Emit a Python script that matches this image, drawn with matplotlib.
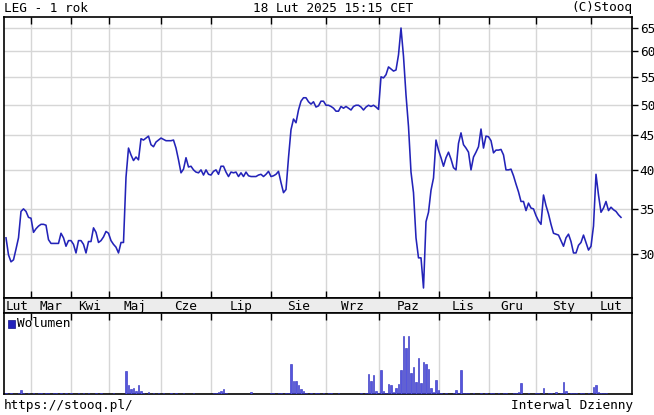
import matplotlib
matplotlib.use('Agg')
import matplotlib.pyplot as plt
import numpy as np
from matplotlib.ticker import FixedLocator, NullLocator, FixedFormatter
from matplotlib.patches import Rectangle

plt.rcParams['font.family'] = ['DejaVu Sans Mono']

# ---- data (one value per trading session) ----
price = [
    31.7, 29.9, 29.2, 29.4, 30.5, 31.7, 34.7, 35.0, 34.7, 34.0,
    33.9, 32.3, 32.7, 33.0, 33.2, 33.2, 33.1, 31.5, 31.1, 31.1,
    31.1, 31.1, 32.2, 31.7, 30.8, 31.4, 31.4, 31.0, 30.1, 31.4,
    31.4, 31.0, 30.1, 31.3, 31.3, 32.8, 32.3, 31.2, 31.4, 31.8,
    32.4, 32.2, 31.4, 31.0, 30.7, 30.1, 31.2, 31.2, 39.0, 43.1,
    42.1, 41.3, 41.8, 41.4, 44.5, 44.3, 44.6, 44.9, 43.6, 43.3,
    44.0, 44.3, 44.6, 44.4, 44.2, 44.2, 44.2, 44.3, 43.1, 41.4,
    39.6, 40.1, 41.7, 40.4, 40.5, 40.0, 39.7, 39.6, 40.0, 39.3,
    40.0, 39.4, 39.3, 39.8, 40.0, 39.4, 40.5, 40.5, 39.7, 39.1,
    39.7, 39.6, 39.7, 39.1, 39.6, 39.1, 39.7, 39.2, 39.1, 39.1,
    39.1, 39.3, 39.4, 39.1, 39.4, 39.8, 39.1, 39.2, 39.4, 39.8,
    38.3, 37.0, 37.4, 41.7, 45.9, 47.6, 47.0, 49.1, 50.6, 51.2,
    51.2, 50.5, 50.1, 50.5, 49.6, 49.8, 50.6, 50.6, 49.9, 49.9,
    49.7, 49.4, 48.9, 48.9, 49.7, 49.4, 49.7, 49.4, 49.1, 49.7,
    49.9, 49.9, 49.6, 49.1, 49.6, 49.9, 49.7, 49.9, 49.6, 49.2,
    55.0, 54.8, 55.4, 56.9, 56.5, 56.1, 56.3, 59.3, 65.0, 59.0,
    51.7, 46.4, 39.7, 37.0, 31.7, 29.6, 29.6, 26.7, 33.5, 34.6,
    37.3, 38.9, 44.3, 42.8, 41.7, 40.5, 41.7, 42.5, 41.5, 40.3,
    40.0, 43.8, 45.4, 43.6, 43.1, 42.5, 40.0, 41.8, 42.5, 43.3,
    46.0, 43.1, 44.9, 44.8, 44.2, 42.4, 42.8, 42.8, 42.9, 42.1,
    40.0, 40.0, 40.1, 39.2, 38.1, 37.1, 35.9, 35.9, 34.8, 35.7,
    35.1, 35.0, 34.2, 33.6, 33.2, 36.7, 35.4, 34.4, 33.2, 32.2,
    32.1, 32.0, 31.4, 30.8, 31.7, 32.1, 31.3, 30.1, 30.1, 30.9,
    31.2, 32.0, 31.2, 30.4, 30.8, 33.0, 39.4, 36.7, 34.6, 35.1,
    35.9, 34.8, 35.2, 34.9, 34.7, 34.3, 34.0,
]

volume = [
    1, 0, 1, 0, 0, 1, 4, 1, 0, 1,
    0, 1, 0, 1, 1, 0, 1, 1, 0, 1,
    1, 0, 1, 0, 1, 0, 1, 0, 0, 1,
    0, 1, 0, 1, 0, 0, 1, 0, 1, 0,
    0, 0, 0, 1, 0, 0, 0, 0, 23, 9,
    5, 6, 3, 9, 3, 1, 0, 2, 0, 1,
    0, 1, 0, 1, 0, 0, 1, 0, 1, 0,
    0, 1, 0, 0, 0, 1, 0, 0, 0, 0,
    0, 0, 0, 1, 1, 2, 3, 5, 1, 0,
    0, 0, 0, 0, 0, 0, 0, 0, 2, 0,
    0, 0, 0, 0, 0, 0, 1, 1, 0, 1,
    1, 0, 1, 1, 30, 13, 13, 9, 5, 3,
    1, 0, 1, 0, 1, 1, 0, 1, 0, 1,
    1, 0, 0, 1, 0, 0, 0, 0, 0, 0,
    0, 0, 1, 0, 1, 20, 13, 19, 3, 1,
    24, 3, 1, 10, 9, 2, 6, 10, 24, 58,
    46, 58, 21, 27, 12, 36, 11, 32, 30, 25,
    6, 2, 14, 4, 1, 0, 1, 0, 0, 1,
    4, 1, 24, 1, 1, 1, 0, 1, 0, 0,
    1, 0, 1, 0, 1, 1, 0, 1, 0, 1,
    1, 0, 0, 1, 1, 2, 11, 0, 0, 1,
    0, 0, 1, 1, 0, 6, 0, 1, 1, 0,
    2, 0, 1, 12, 3, 0, 1, 1, 1, 0,
    1, 1, 0, 1, 0, 7, 9, 2, 1, 1,
    1, 0, 0, 0, 0, 0, 0,
]

month_starts = [10, 26, 41, 62, 82, 106, 128, 149, 173, 193, 212, 234]
month_labels = ['Lut', 'Mar', 'Kwi', 'Maj', 'Cze', 'Lip', 'Sie',
                'Wrz', 'Paz', 'Lis', 'Gru', 'Sty', 'Lut']
price_ticks = [30, 35, 40, 45, 50, 55, 60, 65]
price_tick_labels = ['30', '35', '40', '45', '50', '55', '60', '65']

header_left = 'LEG - 1 rok'
header_mid = '18 Lut 2025 15:15 CET'
header_right = '(C)Stooq'
footer_left = 'https://stooq.pl/'
footer_right = 'Interwal Dzienny'
volume_label = 'Wolumen'

# ---- layout ----
W, H = 654, 415
fig = plt.figure(figsize=(W / 100, H / 100), dpi=100)
fig.patch.set_facecolor('white')


def rect(l, t, r, b):
    return [l / W, 1 - b / H, (r - l) / W, (b - t) / H]


ax = fig.add_axes(rect(4, 17, 632, 298))
band = fig.add_axes(rect(4, 298, 632, 313))
vax = fig.add_axes(rect(4, 313, 632, 394))

x = np.arange(len(price))
xlim = (-0.8, 250.4)
LINE = '#2323b8'
GRID = '#d6d6d6'
FS = 9.2
SPW = 1.2

# ---- price panel ----
ax.plot(x, price, color=LINE, lw=1.15, zorder=3)
ax.set_yscale('log')
ax.set_xlim(*xlim)
ax.set_ylim(25.8, 67.5)
ax.yaxis.set_major_locator(FixedLocator(price_ticks))
ax.yaxis.set_major_formatter(FixedFormatter(price_tick_labels))
ax.yaxis.set_minor_locator(NullLocator())
ax.yaxis.tick_right()
ax.tick_params(axis='y', which='major', direction='out', length=4, width=1,
               labelsize=FS, pad=1.5, right=True, left=False, colors='black')
ax.xaxis.set_major_locator(FixedLocator(month_starts))
ax.xaxis.set_minor_locator(NullLocator())
ax.tick_params(axis='x', direction='in', length=5, width=1, top=True,
               bottom=True, labelbottom=False)
ax.grid(True, color=GRID, lw=1)
ax.set_axisbelow(True)
for s in ax.spines.values():
    s.set_linewidth(SPW)

# ---- month band ----
band.set_facecolor('#ececec')
band.set_xlim(*xlim)
band.set_ylim(0, 1)
band.set_xticks([])
band.set_yticks([])
for s in band.spines.values():
    s.set_linewidth(SPW)
bounds = [xlim[0]] + month_starts + [xlim[1]]
for i, lab in enumerate(month_labels):
    band.text((bounds[i] + bounds[i + 1]) / 2, 0.45, lab, ha='center',
              va='center', fontsize=FS)

# ---- volume panel ----
vax.bar(x, volume, width=0.65, color='#5555dd', edgecolor='#2828c0',
        linewidth=0.4, zorder=3)
vax.set_xlim(*xlim)
vax.set_ylim(0, 81)
vax.set_yticks([])
vax.xaxis.set_major_locator(FixedLocator(month_starts))
vax.tick_params(axis='x', direction='in', length=5, width=1, top=True,
                bottom=False, labelbottom=False)
vax.grid(True, axis='x', color=GRID, lw=1)
vax.set_axisbelow(True)
for s in vax.spines.values():
    s.set_linewidth(SPW)
vax.add_patch(Rectangle((0.007, 0.82), 0.011, 0.09, transform=vax.transAxes,
                        facecolor='#2222bb', edgecolor='#111188', lw=0.5,
                        zorder=5))
vax.text(0.021, 0.865, volume_label, transform=vax.transAxes, ha='left',
         va='center', fontsize=FS)

# ---- header / footer ----
fig.text(4 / W, 1 - 8 / H, header_left, ha='left', va='center', fontsize=FS)
fig.text(333 / W, 1 - 8 / H, header_mid, ha='center', va='center', fontsize=FS)
fig.text(632 / W, 1 - 8 / H, header_right, ha='right', va='center', fontsize=FS)
fig.text(4 / W, 1 - 405 / H, footer_left, ha='left', va='center', fontsize=FS)
fig.text(633 / W, 1 - 405 / H, footer_right, ha='right', va='center', fontsize=FS)

fig.savefig('out.png', dpi=100, facecolor='white')
